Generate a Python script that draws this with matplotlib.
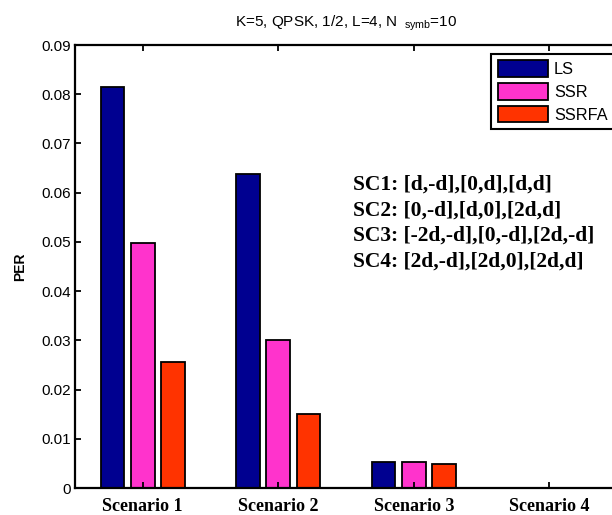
import numpy as np
import matplotlib
matplotlib.use("Agg")
import matplotlib.pyplot as plt

# данные (оценка по картинке)
scenarios = ["Scenario 1", "Scenario 2", "Scenario 3", "Scenario 4"]
per_ls = [0.0815, 0.0637, 0.0053, 0.0]
per_ssr = [0.0497, 0.0300, 0.0053, 0.0]
per_ssrfa = [0.0255, 0.0150, 0.0048, 0.0]
series_names = ["LS", "SSR", "SSRFA"]
sc_lines = ["SC1: [d,-d],[0,d],[d,d]",
            "SC2: [0,-d],[d,0],[2d,d]",
            "SC3: [-2d,-d],[0,-d],[2d,-d]",
            "SC4: [2d,-d],[2d,0],[2d,d]"]

colors = ["#000090", "#FF33CC", "#FF3300"]
sans = "Liberation Sans"
serif = "Liberation Serif"

plt.rcParams["mathtext.fontset"] = "custom"
plt.rcParams["mathtext.rm"] = sans

fig = plt.figure(figsize=(6.12, 5.15), dpi=100)
ax = fig.add_axes([75 / 612, 27 / 515, 542 / 612, 443 / 515])

# сгруппированные столбцы
x = np.arange(1, len(scenarios) + 1)
step = 2 / 9
width = 0.175
for i, (vals, name) in enumerate(zip([per_ls, per_ssr, per_ssrfa], series_names)):
    ax.bar(x + (i - 1) * step, vals, width, color=colors[i], edgecolor="black",
           linewidth=1.3, label=name)

ax.set_xlim(0.5, 4.5)
ax.set_ylim(0, 0.09)
ax.set_yticks(np.arange(0, 0.0901, 0.01))
ax.set_yticklabels(["0"] + ["%.2f" % v for v in np.arange(0.01, 0.0901, 0.01)],
                   family=sans, fontsize=11)
ax.set_xticks(x)
ax.set_xticklabels(scenarios, family=serif, fontweight="bold", fontsize=13)
ax.tick_params(direction="in", top=True, right=False, length=4, width=1.3)
ax.tick_params(axis="x", pad=7)
ax.tick_params(axis="y", pad=3)
for s in ax.spines.values():
    s.set_linewidth(1.6)

ax.set_ylabel("PER", family=sans, fontweight="bold", fontsize=10, labelpad=10)

# заголовок с индексом
ax.text(0.5, 1.043, r"K=5, QPSK, 1/2, L=4, N$_{\ \ \mathregular{symb}}$=10",
        transform=ax.transAxes, ha="center", va="baseline", family=sans, fontsize=11)

ax.text(2.55, 0.0637, "\n".join(sc_lines), family=serif, fontweight="bold",
        fontsize=15.5, va="top", ha="left", linespacing=1.38)

leg = ax.legend(loc="upper right", bbox_to_anchor=(0.9945, 0.9797),
                prop={"family": sans, "size": 11.7},
                handlelength=3.08, handleheight=1.17, handletextpad=0.37,
                labelspacing=0.37, borderpad=0.4, borderaxespad=0,
                fancybox=False, framealpha=1)
leg.get_frame().set_edgecolor("black")
leg.get_frame().set_linewidth(1.5)

fig.savefig("out.png", dpi=100)
